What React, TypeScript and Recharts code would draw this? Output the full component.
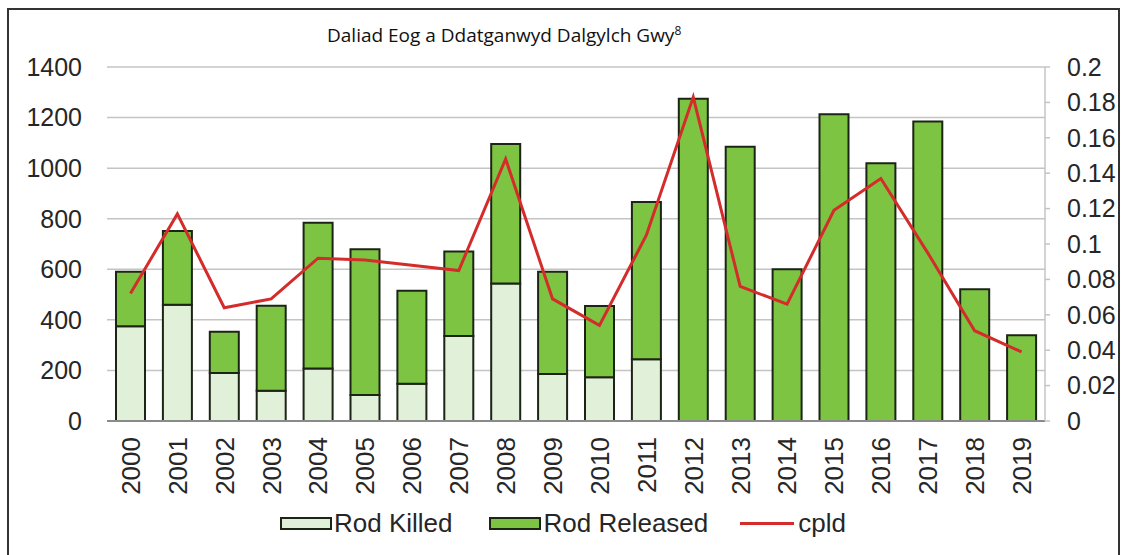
import React from 'react';
import {
  ComposedChart,
  Bar,
  Line,
  XAxis,
  YAxis,
  CartesianGrid,
  Legend,
} from 'recharts';

// Wye catchment declared salmon catch
const years = ['2000', '2001', '2002', '2003', '2004', '2005', '2006', '2007', '2008', '2009',
  '2010', '2011', '2012', '2013', '2014', '2015', '2016', '2017', '2018', '2019'];
const rodKilled = [375, 460, 190, 120, 208, 103, 147, 336, 544, 186, 173, 244, 0, 0, 0, 0, 0, 0, 0, 0];
const rodReleased = [215, 291, 163, 336, 576, 576, 368, 334, 551, 404, 282, 622, 1274, 1085, 600, 1213, 1019, 1184, 521, 339];
const cpld = [0.072, 0.117, 0.064, 0.069, 0.092, 0.091, 0.088, 0.085, 0.148, 0.069,
  0.054, 0.105, 0.183, 0.076, 0.066, 0.119, 0.137, 0.095, 0.051, 0.039];

const leftTicks = [0, 200, 400, 600, 800, 1000, 1200, 1400];
const rightTicks = [0, 0.02, 0.04, 0.06, 0.08, 0.1, 0.12, 0.14, 0.16, 0.18, 0.2];

const data = years.map((y, i) => ({
  year: y,
  killed: rodKilled[i],
  released: rodReleased[i],
  cpld: cpld[i],
}));

const FONT = '"Liberation Sans", Arial, sans-serif';
const TEXT = '#262626';
const KILLED = '#e1f0d9';
const RELEASED = '#7dc443';
const EDGE = '#1c2416';
const RED = '#d42b2b';

const YearTick = ({ x, y, payload }: any) => (
  <text
    x={x}
    y={y + 16}
    transform={`rotate(-90, ${x}, ${y + 16})`}
    textAnchor="end"
    dy="0.36em"
    fontSize={26}
    fontFamily={FONT}
    fill={TEXT}
  >
    {payload.value}
  </text>
);

const LegendBox = () => (
  <div style={{ height: 50, position: 'relative', fontFamily: FONT, fontSize: 26, color: TEXT }}>
    <div style={{ position: 'absolute', left: 280, top: 2, display: 'flex', alignItems: 'center', height: 32 }}>
      <span style={{ width: 48, height: 9, background: KILLED, border: `2px solid ${EDGE}`, display: 'inline-block' }} />
      <span style={{ marginLeft: 2 }}>Rod Killed</span>
      <span style={{ marginLeft: 36, width: 48, height: 9, background: RELEASED, border: `2px solid ${EDGE}`, display: 'inline-block' }} />
      <span style={{ marginLeft: 3 }}>Rod Released</span>
      <span style={{ marginLeft: 32, width: 54, height: 3, background: RED, display: 'inline-block' }} />
      <span style={{ marginLeft: 4 }}>cpld</span>
    </div>
  </div>
);

export default function App() {
  return (
    <div style={{ position: 'fixed', left: 0, top: 0, width: 1131, height: 555, background: '#fff', overflow: 'hidden' }}>
      {/* frame */}
      <div style={{ position: 'absolute', left: 7, top: 8, width: 1113, height: 560, border: '2px solid #333', boxSizing: 'border-box' }} />
      {/* title */}
      <div style={{ position: 'absolute', left: 327, top: 22, fontFamily: '"Open Sans", sans-serif', fontSize: 19, color: '#111', whiteSpace: 'nowrap', zIndex: 2 }}>
        Daliad Eog a Ddatganwyd Dalgylch Gwy<sup style={{ fontSize: 12 }}>8</sup>
      </div>
      <ComposedChart
        width={1131}
        height={555}
        data={data}
        margin={{ top: 67, right: 0, bottom: 0, left: 0 }}
        barSize={29}
      >
        <CartesianGrid yAxisId="left" vertical={false} stroke="#c4c4c4" strokeWidth={1.5} />
        <XAxis
          dataKey="year"
          height={84}
          tickLine={false}
          tickSize={0}
          tickMargin={0}
          axisLine={{ stroke: '#8a8a8a', strokeWidth: 2 }}
          tick={<YearTick />}
          interval={0}
        />
        <YAxis
          yAxisId="left"
          width={107}
          domain={[0, 1400]}
          ticks={leftTicks}
          axisLine={false}
          tickLine={false}
          tickSize={0}
          tickMargin={25}
          tick={{ fontSize: 25, fontFamily: FONT, fill: TEXT }}
        />
        <YAxis
          yAxisId="right"
          orientation="right"
          width={86}
          domain={[0, 0.2]}
          ticks={rightTicks}
          axisLine={{ stroke: '#c4c4c4', strokeWidth: 1.5 }}
          tickLine={{ stroke: '#c4c4c4', strokeWidth: 1.5 }}
          tickSize={5}
          tickMargin={17}
          tickFormatter={(v: number) => String(Number(v.toFixed(2)))}
          tick={{ fontSize: 25, fontFamily: FONT, fill: TEXT, textAnchor: 'start' }}
        />
        <Legend content={<LegendBox />} wrapperStyle={{ left: 0, width: 1131 }} />
        <Bar yAxisId="left" dataKey="killed" name="Rod Killed" stackId="a" fill={KILLED} stroke={EDGE} strokeWidth={2} isAnimationActive={false} />
        <Bar yAxisId="left" dataKey="released" name="Rod Released" stackId="a" fill={RELEASED} stroke={EDGE} strokeWidth={2} isAnimationActive={false} />
        <Line yAxisId="right" type="linear" dataKey="cpld" name="cpld" stroke={RED} strokeWidth={3} dot={false} isAnimationActive={false} />
      </ComposedChart>
    </div>
  );
}
